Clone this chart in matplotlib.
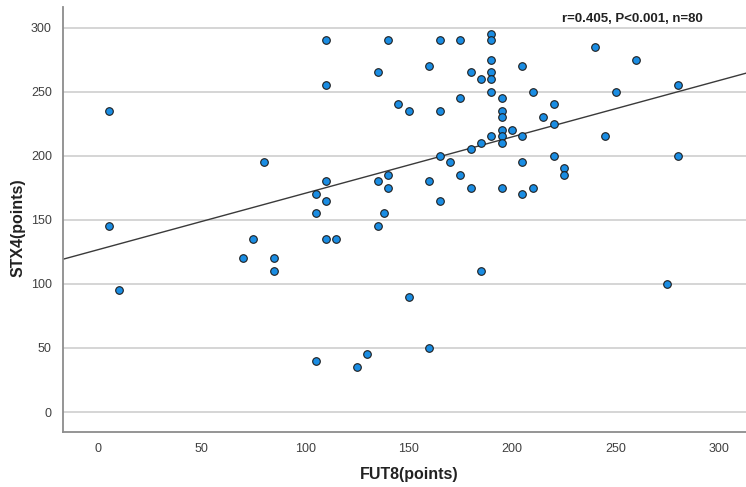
import numpy as np
import matplotlib.pyplot as plt

plt.rcParams['font.family'] = ['Liberation Sans', 'DejaVu Sans']

# FUT8 and STX4 scores for each sample
fut8 = [5, 5, 10, 70, 110, 140, 165, 175, 190, 190,
        190, 135, 160, 180, 185, 190, 190, 110, 175, 190,
        145, 150, 165, 190, 185, 180, 165, 170, 80, 110,
        135, 140, 140, 160, 175, 180, 195, 105, 110, 165,
        105, 138, 135, 75, 110, 115, 240, 260, 205, 210,
        250, 280, 195, 220, 195, 195, 215, 220, 195, 200,
        195, 205, 195, 245, 220, 280, 205, 225, 225, 205,
        210, 85, 85, 185, 150, 160, 105, 130, 125, 275]
stx4 = [235, 145, 95, 120, 290, 290, 290, 290, 295, 290,
        275, 265, 270, 265, 260, 265, 260, 255, 245, 250,
        240, 235, 235, 215, 210, 205, 200, 195, 195, 180,
        180, 185, 175, 180, 185, 175, 175, 170, 165, 165,
        155, 155, 145, 135, 135, 135, 285, 275, 270, 250,
        250, 255, 245, 240, 235, 230, 230, 225, 220, 220,
        215, 215, 210, 215, 200, 200, 195, 190, 185, 170,
        175, 120, 110, 110, 90, 50, 40, 45, 35, 100]
stats_text = 'r=0.405, P<0.001, n=80'

x = np.array(fut8, dtype=float)
y = np.array(stx4, dtype=float)
slope, intercept = np.polyfit(x, y, 1)

fig = plt.figure(figsize=(7.46, 4.87), dpi=100)
ax = fig.add_axes([63 / 746, 55 / 487, 683 / 746, 425 / 487])

xmin, xmax = -17, 313
ax.set_xlim(xmin, xmax)
ax.set_ylim(-15.6, 316)

ax.set_yticks([0, 50, 100, 150, 200, 250, 300])
ax.set_xticks([0, 50, 100, 150, 200, 250, 300])
ax.yaxis.grid(True, color='#d2d2d2', linewidth=1.3)
ax.set_axisbelow(True)
ax.tick_params(length=0, labelsize=9, colors='#404040', pad=8)

for side in ['top', 'right']:
    ax.spines[side].set_visible(False)
for side in ['left', 'bottom']:
    ax.spines[side].set_color('#8c8c8c')
    ax.spines[side].set_linewidth(1.3)

xs = np.array([xmin, xmax])
ax.plot(xs, intercept + slope * xs, color='#3a3a3a', linewidth=1.0, zorder=2)

ax.scatter(x, y, s=30, color='#1a8de3', edgecolors='#1e1e1e',
           linewidths=0.8, zorder=3)

ax.set_xlabel('FUT8(points)', fontsize=11.5, fontweight='bold',
              color='#222222')
ax.set_ylabel('STX4(points)', fontsize=11.5, fontweight='bold',
              color='#222222')
ax.xaxis.set_label_coords(0.507, -0.101)
ax.yaxis.set_label_coords(-0.066, 0.48)
ax.xaxis.label.set_va('center')
ax.yaxis.label.set_va('center')

fig.text(632 / 746, 1 - 19 / 487, stats_text, ha='center', va='center',
         fontsize=9.5, fontweight='bold', color='#222222')

fig.savefig('out.png', dpi=100, facecolor='white')
